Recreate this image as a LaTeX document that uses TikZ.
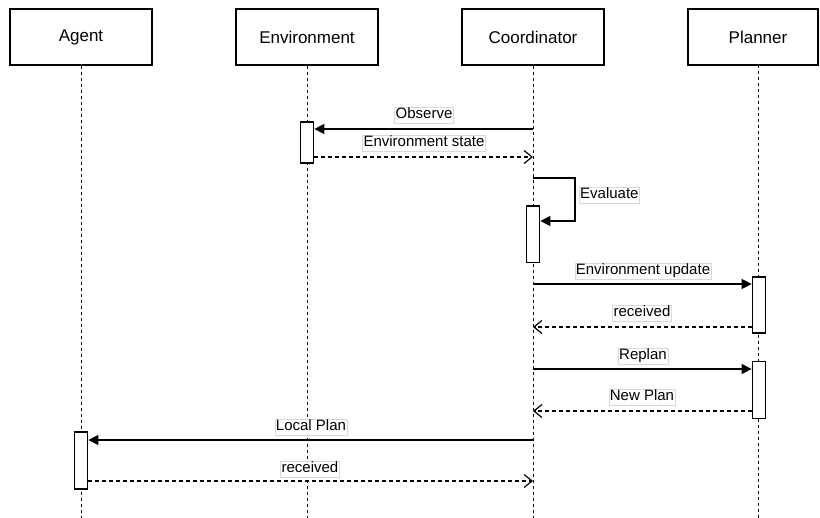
\documentclass[tikz,border=0pt]{standalone}
\usepackage{fontspec}
\setmainfont{Liberation Sans}
\usetikzlibrary{arrows.meta}
\begin{document}
\begin{tikzpicture}[x=1pt,y=-1pt,
  header/.style={draw, line width=1.2pt, fill=white, minimum width=142pt, minimum height=56pt, inner sep=0pt, font=\fontsize{17}{20}\selectfont},
  life/.style={line width=1pt, dash pattern=on 3pt off 3pt},
  act/.style={draw, fill=white, line width=1.2pt, minimum width=13.5pt, inner sep=0pt},
  msg/.style={line width=1.2pt, -{Triangle[length=10pt,width=10pt]}},
  ret/.style={line width=1.2pt, dash pattern=on 4pt off 3pt, -{Straight Barb[length=8pt,width=13pt,line width=1.2pt]}},
  lbl/.style={draw=gray!30, fill=white, inner sep=1pt, text height=11pt, text depth=3pt, font=\fontsize{15}{17}\selectfont}
]
\useasboundingbox (0,0) rectangle (820,518);
\fill[white] (0,0) rectangle (820,518);

% headers
\node[header] (agent) at (81,37) {Agent};
\node[header] (env) at (307,37) {Environment};
\node[header] (coord) at (533,37) {Coordinator};
\node[header, minimum width=130pt] (planner) at (753,37) {\hspace*{10pt}Planner};

% lifeline ends
\coordinate (agentEnd) at (81,518);
\coordinate (envEnd) at (307,518);
\coordinate (coordEnd) at (533,518);
\coordinate (plTop) at (758,65);
\coordinate (plEnd) at (758,518);

\draw[life] (agent.south) -- (agentEnd);
\draw[life] (env.south) -- (envEnd);
\draw[life] (coord.south) -- (coordEnd);
\draw[life] (plTop) -- (plEnd);

% activations
\node[act, minimum height=41pt] (envact) at (307,142.5) {};
\node[act, minimum height=56.5pt] (coordact) at (533,234.3) {};
\node[act, minimum height=56pt] (planact1) at (759,305) {};
\node[act, minimum height=56.5pt] (planact2) at (759,390) {};
\node[act, minimum height=57pt] (agentact) at (81,460.5) {};

% loop corner coordinates
\coordinate (loopA) at (575,178);
\coordinate (loopB) at (575,221);

% messages
\draw[msg] (coord.south |- 0,129) -- (envact.east |- 0,129);
\node[lbl] (lObserve) at (424,115) {Observe};

\draw[ret] (envact.east |- 0,157) -- (coord.south |- 0,157);
\node[lbl] (lEnvState) at (424,143) {Environment state};

\draw[msg] (coord.south |- 0,178) -- (loopA) -- (loopB) -- (coordact.east |- loopB);
\node[lbl, anchor=west] (lEval) at (579,195) {Evaluate};

\draw[msg] (coord.south |- 0,284) -- (planact1.west |- 0,284);
\node[lbl] (lEnvUp) at (643,271) {Environment update};

\draw[ret] (planact1.west |- 0,327) -- (coord.south |- 0,327);
\node[lbl] (lRec1) at (642,313) {received};

\draw[msg] (coord.south |- 0,369) -- (planact2.west |- 0,369);
\node[lbl] (lReplan) at (643,356) {Replan};

\draw[ret] (planact2.west |- 0,411) -- (coord.south |- 0,411);
\node[lbl] (lNewPlan) at (642,397) {New Plan};

\draw[msg] (coord.south |- 0,440) -- (agentact.east |- 0,440);
\node[lbl] (lLocal) at (311,427) {Local Plan};

\draw[ret] (agentact.east |- 0,481) -- (coord.south |- 0,481);
\node[lbl] (lRec2) at (310,469) {received};
\end{tikzpicture}
\end{document}
